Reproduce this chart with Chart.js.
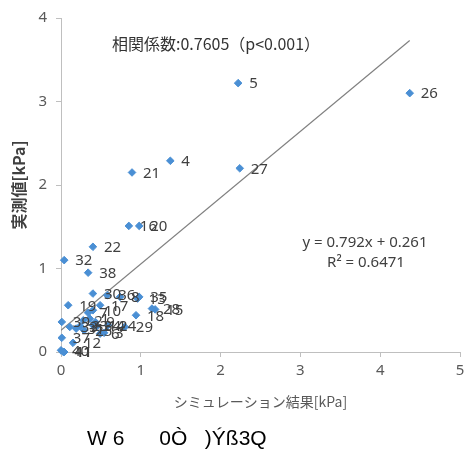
<!DOCTYPE html>
<html>
<head>
<meta charset="utf-8">
<script src="https://cdn.jsdelivr.net/npm/chart.js@4"></script>
<style>
  html, body { margin: 0; padding: 0; background: #fff; }
</style>
</head>
<body>
<canvas id="grafico" width="470" height="450"></canvas>
<script>
// numero de caso, simulacion (x) y medicion (y) en kPa
var ids = [1, 2, 3, 4, 5, 6, 7, 8, 9, 10,
           11, 12, 13, 14, 15, 16, 17, 18, 19, 20,
           21, 22, 23, 24, 25, 26, 27, 28, 29, 30,
           31, 32, 33, 34, 35, 36, 37, 38, 39, 40, 41];
var simX = [0.36, 0.28, 0.54, 1.37, 2.22, 0.49, 0.34, 0.74, 0.43, 0.40,
            0.04, 0.15, 0.96, 0.45, 1.18, 0.85, 0.49, 0.94, 0.09, 0.98,
            0.89, 0.40, 0.24, 0.59, 0.29, 4.37, 2.24, 1.14, 0.80, 0.40,
            0.19, 0.04, 0.11, 0.40, 0.98, 0.58, 0.01, 0.34, 0.01, 0.00, 0.03];
var medY = [0.40, 0.38, 0.23, 2.29, 3.22, 0.22, 0.47, 0.66, 0.36, 0.50,
            0.00, 0.11, 0.64, 0.31, 0.51, 1.51, 0.56, 0.44, 0.56, 1.51,
            2.15, 1.26, 0.31, 0.32, 0.26, 3.10, 2.20, 0.52, 0.30, 0.70,
            0.28, 1.10, 0.30, 0.32, 0.66, 0.68, 0.17, 0.95, 0.36, 0.02, 0.00];

// linea de tendencia (extremos)
var trendX = [0, 4.37];
var trendY = [0.26, 3.73];

var xTicks = [0, 1, 2, 3, 4, 5];
var yTicks = [0, 1, 2, 3, 4];

var puntos = simX.map(function (x, i) { return { x: x, y: medY[i] }; });
var tendencia = trendX.map(function (x, i) { return { x: x, y: trendY[i] }; });

var color_punto = "#4a8fd4";
var gris_eje = "#bfbfbf";

var textosPlugin = {
    id: "textos",
    afterDatasetsDraw: function (chart) {
        var ctx = chart.ctx;
        var meta = chart.getDatasetMeta(0);
        ctx.save();
        // etiquetas de cada punto
        ctx.font = '15px "Noto Sans"';
        ctx.fillStyle = "#404040";
        ctx.textAlign = "left";
        ctx.textBaseline = "middle";
        meta.data.forEach(function (pt, i) {
            ctx.fillText(String(ids[i]), pt.x + 11, pt.y + 1);
        });
        // coeficiente de correlacion
        ctx.font = '16px "Noto Sans CJK JP"';
        ctx.fillStyle = "#333333";
        ctx.fillText("相関係数:0.7605（p<0.001）", 112, 44);
        // ecuacion
        ctx.textAlign = "center";
        ctx.font = '15px "Noto Sans"';
        ctx.fillStyle = "#404040";
        ctx.fillText("y = 0.792x + 0.261", 365, 243);
        ctx.fillText("R² = 0.6471", 366, 263);
        // texto inferior
        ctx.textAlign = "left";
        ctx.font = '21px "Liberation Sans"';
        ctx.fillStyle = "#000000";
        ctx.fillText("W 6      0Ò   )Ýß3Q", 87, 439);
        ctx.restore();
    }
};

var ctx_grafico = document.getElementById("grafico");
var grafico = new Chart(ctx_grafico, {
    type: "scatter",
    data: {
        datasets: [
            {
                label: "実測値",
                data: puntos,
                backgroundColor: color_punto,
                borderColor: color_punto,
                borderWidth: 1,
                pointStyle: "rectRot",
                pointRadius: 3.8,
                clip: false,
                order: 1,
            },
            {
                type: "line",
                label: "近似",
                data: tendencia,
                borderColor: "#808080",
                borderWidth: 1.2,
                pointRadius: 0,
                fill: false,
                order: 2,
            },
        ],
    },
    options: {
        responsive: false,
        animation: false,
        layout: {
            padding: { left: 0, right: 10, top: 15, bottom: 36 },
        },
        plugins: {
            legend: { display: false },
            tooltip: { enabled: false },
        },
        scales: {
            x: {
                type: "linear",
                min: 0,
                max: 5,
                afterBuildTicks: function (scale) {
                    scale.ticks = xTicks.map(function (v) { return { value: v }; });
                },
                afterFit: function (scale) { scale.height = 62; },
                ticks: {
                    padding: 5,
                    color: "#595959",
                    font: { family: "Noto Sans", size: 15 },
                },
                grid: {
                    drawOnChartArea: false,
                    color: gris_eje,
                    tickLength: 5,
                },
                border: { color: gris_eje },
                title: {
                    display: true,
                    text: "シミュレーション結果[kPa]",
                    color: "#595959",
                    font: { family: "Noto Sans CJK JP", size: 14 },
                    padding: { top: 4, bottom: 4 },
                },
            },
            y: {
                type: "linear",
                min: 0,
                max: 4,
                afterBuildTicks: function (scale) {
                    scale.ticks = yTicks.map(function (v) { return { value: v }; });
                },
                afterFit: function (scale) { scale.width = 61; },
                ticks: {
                    padding: 9,
                    color: "#595959",
                    font: { family: "Noto Sans", size: 15 },
                },
                grid: {
                    drawOnChartArea: false,
                    color: gris_eje,
                    tickLength: 5,
                },
                border: { color: gris_eje },
                title: {
                    display: true,
                    text: "実測値[kPa]",
                    color: "#404040",
                    font: { family: "Noto Sans CJK JP", size: 16, weight: "bold" },
                    padding: { top: 9, bottom: 4 },
                },
            },
        },
    },
    plugins: [textosPlugin],
});
</script>
</body>
</html>
